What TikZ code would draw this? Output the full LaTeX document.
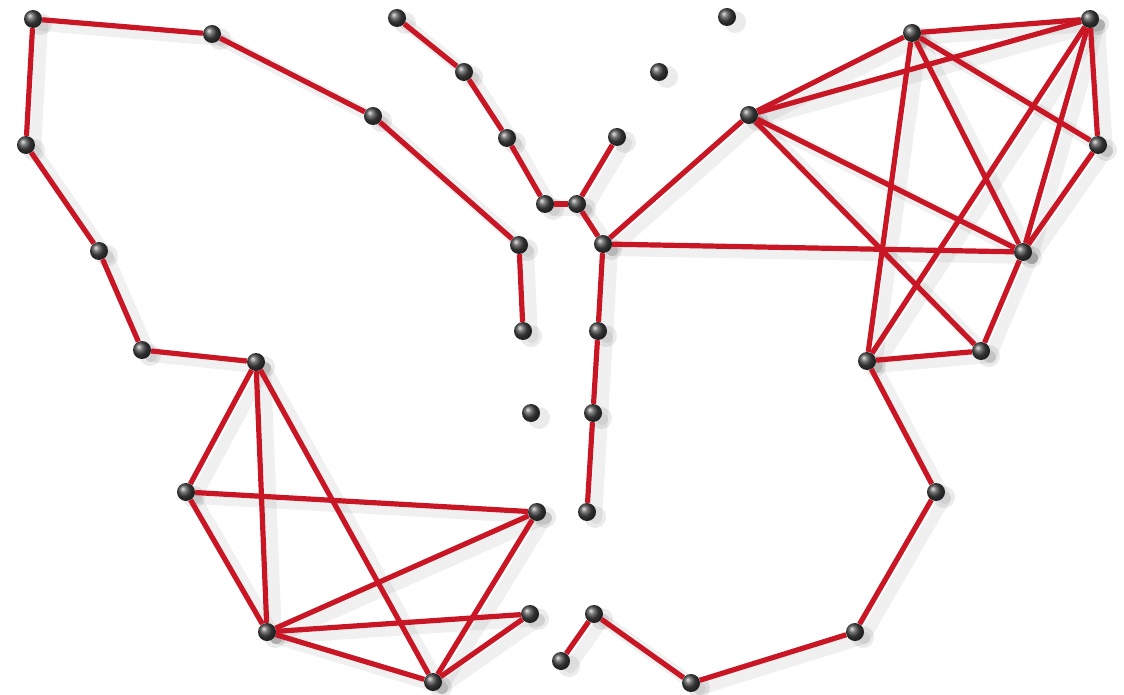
\documentclass[tikz,border=0pt]{standalone}
\usetikzlibrary{shadings}
\definecolor{edgered}{RGB}{200,22,36}
\definecolor{dotgray}{RGB}{70,70,70}
\begin{document}
\begin{tikzpicture}[x=1pt,y=-1pt,
  dot/.style={circle,inner sep=0pt,minimum size=18pt,shading=ball,ball color=dotgray},
  link/.style={draw=edgered,line width=5.2pt},
  shade/.style={draw=black,opacity=0.06,line width=12pt,line cap=round}]
\useasboundingbox (0,0) rectangle (1124,695);
% coordinates
\foreach \n/\x/\y in {
 A1/33/19, A2/212/34, A3/373/116, A4/26/145, A5/99/251, A6/519/245,
 A7/142/350, A8/256/362, A9/523/331, A10/531/413, A11/186/492, A12/537/512,
 A13/530/614, A14/267/632, A15/433/682,
 B1/397/18, B2/464/72, B3/507/138, B4/545/204, B5/577/204, B6/617/137,
 B7/603/244, B8/598/331, B9/593/413, B10/587/512, B11/594/614, B12/561/661, B13/691/683,
 C1/727/17, C2/659/72, C3/912/33, C4/1090/19, C5/749/115, C6/1098/145,
 C7/1023/252, C8/867/361, C9/981/351, C10/936/492, C11/855/632}
 {\coordinate (p\n) at (\x,\y);}
% soft shadows
\foreach \a/\b in {A1/A2,A2/A3,A3/A6,A6/A9,A1/A4,A4/A5,A5/A7,A7/A8,
 A8/A11,A8/A14,A8/A15,A11/A12,A11/A14,A12/A14,A13/A14,A14/A15,A12/A15,A13/A15,
 B1/B2,B2/B3,B3/B4,B4/B5,B5/B6,B5/B7,B7/B8,B8/B9,B9/B10,B12/B11,B11/B13,B13/C11,
 C11/C10,C10/C8,B7/C5,B7/C7,C5/C3,C5/C4,C3/C4,C5/C7,C5/C9,C3/C8,C3/C7,C3/C6,
 C4/C6,C4/C8,C4/C7,C6/C7,C7/C9,C8/C9}
 {\draw[shade] ([shift={(9,6)}]p\a) -- ([shift={(9,6)}]p\b);}
% dots
\foreach \n in {A1,A2,A3,A4,A5,A6,A7,A8,A9,A10,A11,A12,A13,A14,A15,
 B1,B2,B3,B4,B5,B6,B7,B8,B9,B10,B11,B12,B13,C1,C2,C3,C4,C5,C6,C7,C8,C9,C10,C11}
 {\fill[black,opacity=0.08] ([shift={(8,5)}]p\n) circle (11pt);
  \node[dot] (\n) at (p\n) {};}
% links
\foreach \a/\b in {A1/A2,A2/A3,A3/A6,A6/A9,A1/A4,A4/A5,A5/A7,A7/A8,
 A8/A11,A8/A14,A8/A15,A11/A12,A11/A14,A12/A14,A13/A14,A14/A15,A12/A15,A13/A15,
 B1/B2,B2/B3,B3/B4,B4/B5,B5/B6,B5/B7,B7/B8,B8/B9,B9/B10,B12/B11,B11/B13,B13/C11,
 C11/C10,C10/C8,B7/C5,B7/C7,C5/C3,C5/C4,C3/C4,C5/C7,C5/C9,C3/C8,C3/C7,C3/C6,
 C4/C6,C4/C8,C4/C7,C6/C7,C7/C9,C8/C9}
 {\draw[link] (\a) -- (\b);}
\end{tikzpicture}
\end{document}
